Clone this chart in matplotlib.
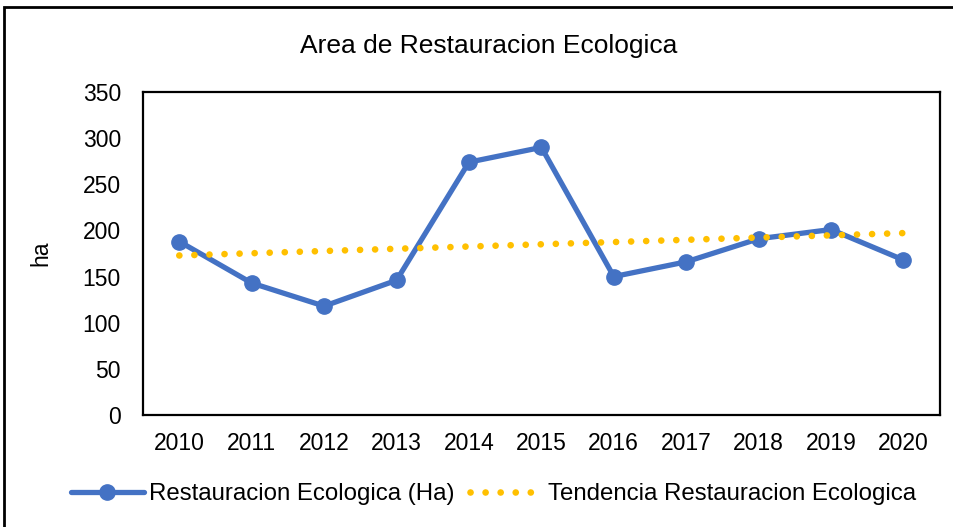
import numpy as np
import matplotlib
matplotlib.use("Agg")
import matplotlib.pyplot as plt
from matplotlib.patches import Rectangle

plt.rcParams['font.family'] = ['Liberation Sans', 'DejaVu Sans']

years = ['2010', '2011', '2012', '2013', '2014', '2015', '2016', '2017', '2018', '2019', '2020']
area_ha = [188, 143, 118, 146, 274, 290, 150, 166, 191, 201, 168]
yticks = [0, 50, 100, 150, 200, 250, 300, 350]
title = 'Area de Restauracion Ecologica'
series_label = 'Restauracion Ecologica (Ha)'
trend_label = 'Tendencia Restauracion Ecologica'

x = np.arange(len(years))
coef = np.polyfit(x, area_ha, 1)
trend = np.polyval(coef, x)

fig = plt.figure(figsize=(9.54, 5.27), dpi=100)
ax = fig.add_axes([0.150, 0.2125, 0.835, 0.6129])

ax.plot(x, area_ha, color='#4472C4', lw=3.8, marker='o', markersize=11,
        label=series_label, zorder=3, solid_capstyle='round')
ax.plot(x, trend, color='#FFC000', lw=4.8, linestyle=(0, (0.01, 2.25)),
        dash_capstyle='round', label=trend_label, zorder=4)

ax.set_xlim(-0.5, len(years) - 0.5)
ax.set_ylim(0, 350)
ax.set_yticks(yticks)
ax.set_xticks(x)
ax.set_xticklabels(years)
ax.tick_params(length=0, labelsize=16.5)
ax.tick_params(axis='x', pad=12)
ax.tick_params(axis='y', pad=16)
for s in ax.spines.values():
    s.set_linewidth(1.6)
    s.set_color('black')

ax.set_ylabel('ha', fontsize=16.5, labelpad=22)
fig.text(0.512, 0.913, title, ha='center', va='center', fontsize=19)

leg = fig.legend(loc='center', bbox_to_anchor=(0.517, 0.0626), ncol=2, frameon=False,
                 fontsize=17.3, handlelength=3.05, handletextpad=0.2, columnspacing=0.65)

fig.patches.append(Rectangle((0.004, -0.01), 1.02, 0.997, transform=fig.transFigure,
                             fill=False, edgecolor='black', lw=2))

fig.savefig('out.png', dpi=100)
